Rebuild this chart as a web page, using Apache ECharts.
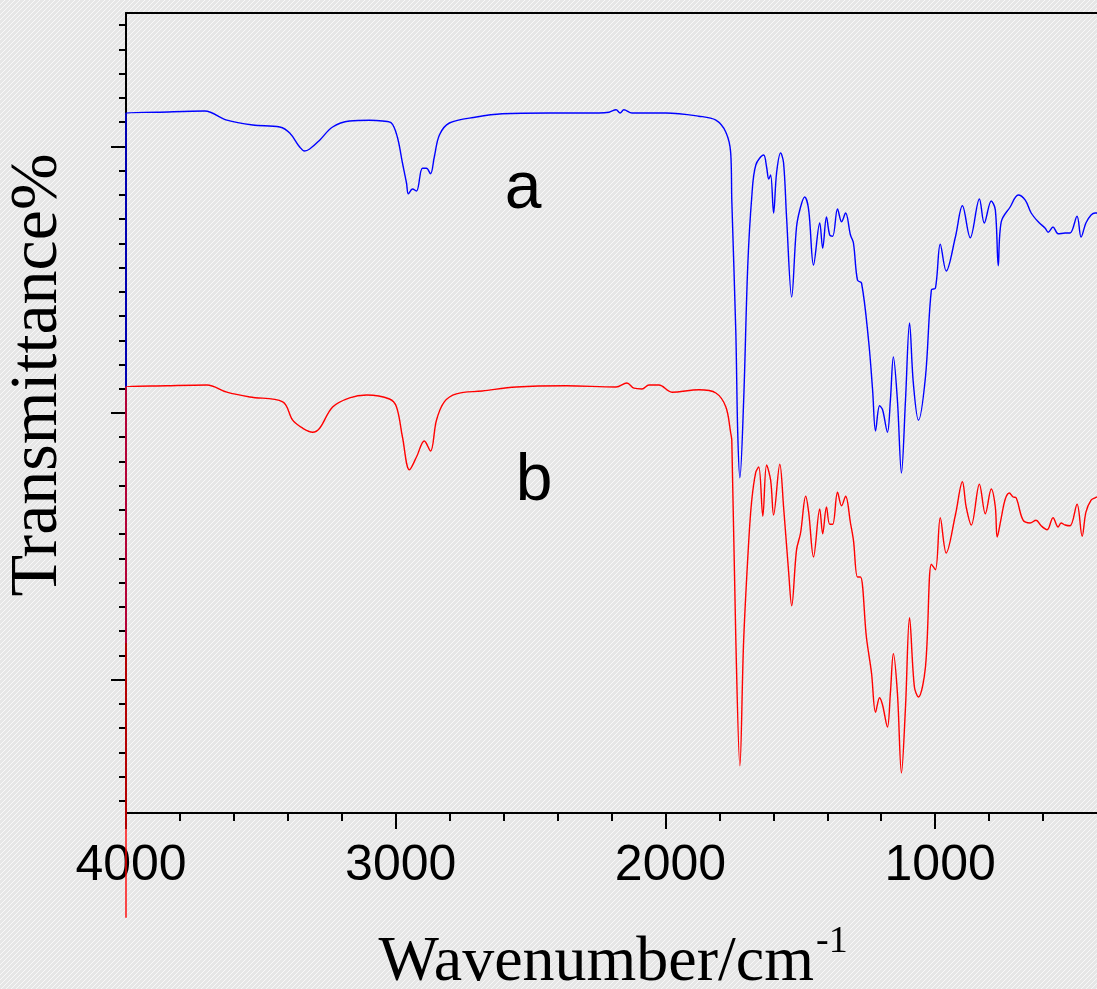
<!DOCTYPE html>
<html>
<head>
<meta charset="utf-8">
<script src="https://cdn.jsdelivr.net/npm/echarts@6/dist/echarts.min.js"></script>
<style>
  html, body { margin: 0; padding: 0; width: 1097px; height: 989px; overflow: hidden;
    background: repeating-linear-gradient(-45deg, #e6e6e6 0px, #e6e6e6 2.4px, #f7f7f7 2.4px, #f7f7f7 3.5px); }
  #chart { width: 1097px; height: 989px; }
</style>
</head>
<body>
<div id="chart"></div>
<script>
// ---- data (wavenumber in cm^-1, transmittance in arbitrary % units) ----
const waveA = [4000,4000,3885,3708,3626,3530,3430,3393,3356,3338,3319,3282,3234,3171,3097,3049,3016,2994,2975,2960,2953,2938,2923,2901,2886,2871,2857,2838,2801,2701,2605,2431,2246,2209,2183,2168,2154,2124,1998,1876,1813,1776,1758,1754,1739,1732,1724,1710,1695,1680,1665,1636,1625,1617,1610,1599,1588,1573,1562,1551,1532,1514,1499,1484,1469,1451,1428,1417,1403,1391,1380,1362,1347,1332,1314,1303,1288,1273,1247,1232,1221,1206,1195,1177,1166,1155,1140,1125,1110,1095,1081,1062,1036,1014,999,981,959,925,899,870,836,818,792,777,766,755,722,692,666,644,618,592,581,563,544,518,500,474,459,441,422,407,400];
const transA = [21.25,87.5,87.6,87.75,86.6,86.0,85.75,85.0,83.25,82.75,83.0,84.1,85.75,86.5,86.6,86.5,86.25,84.5,81.25,78.75,77.4,78.0,77.75,80.6,80.6,79.9,82.0,84.75,86.25,87.0,87.4,87.5,87.5,87.6,87.9,87.5,87.9,87.5,87.5,87.1,86.6,85.1,82.5,76.6,60.0,47.5,41.9,51.6,68.25,77.0,81.0,82.25,80.75,79.25,79.75,75.0,80.0,82.5,81.25,74.5,64.5,73.25,75.75,77.0,75.4,68.5,73.75,70.6,74.5,72.25,72.1,75.5,73.9,75.0,72.25,71.25,66.6,66.25,59.1,52.9,47.75,50.9,50.4,47.6,51.6,57.0,51.6,42.5,51.6,61.25,53.75,49.1,54.5,65.4,65.6,71.1,67.75,72.0,75.9,71.9,76.75,73.75,76.5,75.4,68.4,73.9,75.75,77.25,76.6,75.0,73.9,73.1,72.6,73.25,72.4,72.5,72.5,74.6,72.0,73.75,74.75,75.0,75.0];

const waveB = [4000,4000,3848,3700,3626,3541,3419,3382,3345,3308,3282,3234,3171,3108,3023,2997,2975,2949,2923,2894,2871,2849,2820,2775,2679,2553,2368,2183,2143,2117,2087,2061,2024,1976,1876,1813,1776,1758,1754,1739,1724,1710,1691,1680,1665,1654,1639,1625,1610,1599,1576,1562,1543,1532,1514,1499,1480,1469,1451,1428,1417,1403,1391,1380,1362,1347,1332,1314,1303,1288,1277,1255,1236,1221,1206,1195,1177,1166,1155,1140,1125,1110,1095,1077,1062,1036,1014,999,981,959,925,899,885,866,836,814,792,777,770,755,740,725,711,700,674,648,626,607,585,563,544,533,518,500,474,455,441,422,407,400];
const transB = [-13.1,53.25,53.4,53.5,52.6,52.0,51.4,49.1,48.1,47.6,48.1,50.75,51.9,52.25,51.75,50.75,47.0,42.9,44.5,46.5,45.25,49.1,51.4,52.4,52.75,53.25,53.4,53.25,53.75,53.1,53.0,53.5,53.5,52.6,52.9,52.5,50.75,47.5,46.6,21.6,5.9,21.6,34.1,39.1,42.6,43.25,37.1,43.5,41.6,37.25,43.6,38.25,30.0,25.9,32.9,35.0,39.6,37.6,32.0,38.0,34.9,38.25,36.1,36.1,40.1,38.4,39.6,36.25,34.1,29.5,29.5,22.0,17.5,12.6,14.4,13.5,10.75,15.0,19.9,15.0,5.0,13.25,24.4,15.75,14.5,18.25,31.1,30.4,36.9,32.5,37.25,41.4,38.25,36.0,41.1,37.4,40.5,38.25,34.5,36.9,39.25,40.0,39.5,39.4,36.6,36.25,36.6,35.9,35.4,36.9,35.75,36.25,36.0,35.9,38.6,34.6,37.6,39.1,39.4,39.5];

const xMajorTicks = [1000, 2000, 3000, 4000];
const xMinorStep = 200;
const yMajorTicks = [16.667, 50, 83.333];
const yMinorStep = 100 / 33;
const seriesNames = ['a', 'b'];

// ---- tick helpers (axis decorations only) ----
const xMinorTicks = [];
for (let v = 600; v < 4000; v += xMinorStep) { if (v % 1000 !== 0) xMinorTicks.push(v); }
const yMinorTicks = [];
for (let k = 0; k < 33; k++) { yMinorTicks.push(+(yMinorStep * (k + 0.5)).toFixed(4)); }

const zip = (xs, ys) => xs.map((x, i) => [x, ys[i]]);

// ---- hatched background pattern ----
const tile = document.createElement('canvas');
tile.width = 5; tile.height = 5;
const tc = tile.getContext('2d');
tc.fillStyle = '#e6e6e6'; tc.fillRect(0, 0, 5, 5);
tc.fillStyle = '#f8f8f8';
for (let i = 0; i < 5; i++) tc.fillRect(i, 4 - i, 1, 1);

const sans = '"Liberation Sans", Arial, sans-serif';
const serif = '"Liberation Serif", "Times New Roman", serif';
const axisLineStyle = { color: '#000', width: 2 };

const chart = echarts.init(document.getElementById('chart'), null, { renderer: 'canvas' });
chart.setOption({
  animation: false,
  backgroundColor: { image: tile, repeat: 'repeat' },
  grid: { left: 126, top: 13, width: 973, height: 800, containLabel: false },
  xAxis: [
    {
      type: 'value', min: 400, max: 4000, inverse: true, position: 'bottom',
      axisLine: { show: true, lineStyle: axisLineStyle },
      axisTick: { show: true, inside: false, length: 16, lineStyle: axisLineStyle, customValues: xMajorTicks },
      axisLabel: { show: true, customValues: xMajorTicks, margin: 28, fontSize: 50, fontFamily: sans, color: '#000',
        padding: [0, 0, 0, 10], formatter: (v) => String(v) },
      splitLine: { show: false }
    },
    {
      type: 'value', min: 400, max: 4000, inverse: true, position: 'bottom',
      axisLine: { show: false },
      axisTick: { show: true, inside: false, length: 8, lineStyle: axisLineStyle, customValues: xMinorTicks },
      axisLabel: { show: false },
      splitLine: { show: false }
    },
    {
      type: 'value', min: 400, max: 4000, inverse: true, position: 'top',
      axisLine: { show: true, lineStyle: axisLineStyle },
      axisTick: { show: false }, axisLabel: { show: false }, splitLine: { show: false }
    }
  ],
  yAxis: [
    {
      type: 'value', min: 0, max: 100, position: 'left',
      axisLine: { show: true, lineStyle: axisLineStyle },
      axisTick: { show: true, inside: false, length: 15, lineStyle: axisLineStyle, customValues: yMajorTicks },
      axisLabel: { show: false },
      splitLine: { show: false }
    },
    {
      type: 'value', min: 0, max: 100, position: 'left',
      axisLine: { show: false },
      axisTick: { show: true, inside: false, length: 7, lineStyle: axisLineStyle, customValues: yMinorTicks },
      axisLabel: { show: false },
      splitLine: { show: false }
    }
  ],
  series: [
    {
      name: seriesNames[0], type: 'line', xAxisIndex: 0, yAxisIndex: 0,
      data: zip(waveA, transA), showSymbol: false, symbol: 'none', smooth: 0.35,
      lineStyle: { color: '#0000ff', width: 1.4 }, itemStyle: { color: '#0000ff' }, z: 3
    },
    {
      name: seriesNames[1], type: 'line', xAxisIndex: 0, yAxisIndex: 0, clip: false,
      data: zip(waveB, transB), showSymbol: false, symbol: 'none', smooth: 0.35,
      lineStyle: { color: '#ff0000', width: 1.4 }, itemStyle: { color: '#ff0000' }, z: 4
    }
  ],
  graphic: [
    { type: 'text', x: 523, y: 190, style: { text: seriesNames[0], font: '66px ' + sans, fill: '#000', align: 'center', verticalAlign: 'middle' }, z: 10 },
    { type: 'text', x: 534, y: 482, style: { text: seriesNames[1], font: '66px ' + sans, fill: '#000', align: 'center', verticalAlign: 'middle' }, z: 10 },
    { type: 'text', x: 38, y: 375, rotation: Math.PI / 2, style: { text: 'Transmittance%', font: '68px ' + serif, fill: '#000', align: 'center', verticalAlign: 'middle' }, z: 10 },
    { type: 'text', x: 814, y: 963, style: { text: 'Wavenumber/cm', font: '64px ' + serif, fill: '#000', align: 'right', verticalAlign: 'middle' }, z: 10 },
    { type: 'text', x: 816, y: 942, style: { text: '-1', font: '38px ' + serif, fill: '#000', align: 'left', verticalAlign: 'middle' }, z: 10 }
  ]
});
</script>
</body>
</html>
